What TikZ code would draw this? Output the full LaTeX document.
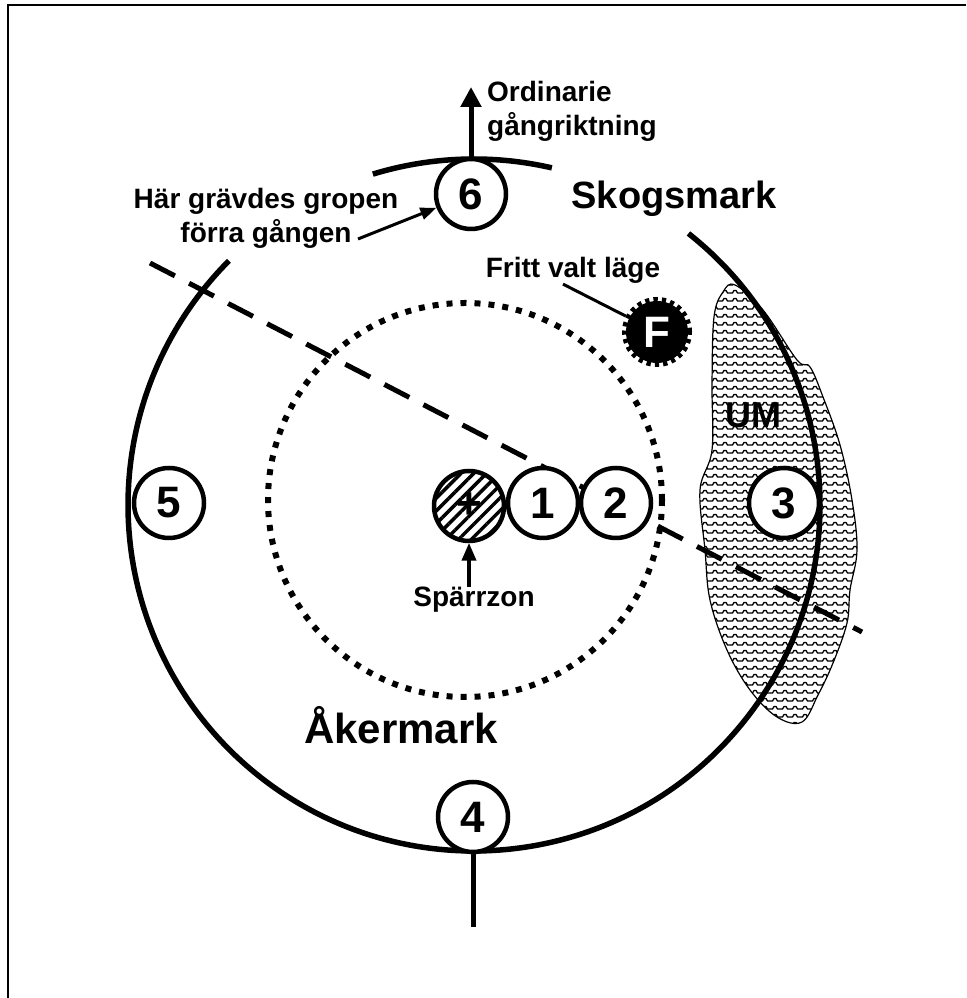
\documentclass[tikz,border=0pt]{standalone}
\usepackage{fontspec}
\setmainfont{Liberation Sans}
\usepackage{xcolor}
\usepackage{tikz}
\usetikzlibrary{arrows.meta,patterns.meta}
\pgfdeclarepatternformonly{UMwaves}{\pgfqpoint{-1pt}{-1pt}}{\pgfqpoint{11pt}{9pt}}{\pgfqpoint{10pt}{8pt}}{%
  \pgfsetlinewidth{1.3pt}%
  \pgfpathmoveto{\pgfqpoint{0pt}{1pt}}%
  \pgfpathlineto{\pgfqpoint{2.5pt}{1pt}}%
  \pgfpathlineto{\pgfqpoint{4pt}{3.5pt}}%
  \pgfpathlineto{\pgfqpoint{6pt}{3.5pt}}%
  \pgfpathlineto{\pgfqpoint{7.5pt}{1pt}}%
  \pgfpathlineto{\pgfqpoint{10pt}{1pt}}%
  \pgfusepath{stroke}}

\begin{document}
\begin{tikzpicture}[x=1pt,y=1pt,
  numcirc/.style={circle,draw,line width=4.5pt,fill=white,minimum size=70pt,inner sep=0pt,font=\fontsize{44}{44}\selectfont\bfseries},
  lbl/.style={font=\fontsize{28}{34}\selectfont\bfseries,inner sep=0pt},
  biglbl/.style={font=\fontsize{38}{42}\selectfont\bfseries,inner sep=0pt},
  pointer/.style={line width=3pt,-{Triangle[width=12pt,length=16pt]}}]
\path[use as bounding box] (0,0) rectangle (966,998);
\draw[line width=2.5pt] (8,0) -- (8,993) -- (966,993);
% UM area
\draw[line width=1.2pt,pattern=UMwaves] plot[smooth cycle,tension=0.6] coordinates {
  (735,713) (763,688) (797,638) (810,631) (823,601) (840,553) (852,498) (857,448)
  (850,408) (847,375) (833,335) (818,303) (802,276) (777,281) (750,308) (727,348)
  (710,398) (705,448) (700,508) (712,548) (712,615) (714,681) (723,706)};
% big circle, open where the labels sit
\draw[line width=5.5pt] (474,493) ++(51.7:346) arc[start angle=51.7,end angle=-224.9,radius=346];
\draw[line width=5.5pt] (474,493) ++(77:346) arc[start angle=77,end angle=107,radius=346];
\draw[line width=6pt,dash pattern=on 6pt off 8pt] (465,498) circle[radius=197];
\draw[line width=5pt,dash pattern=on 28pt off 16pt] (150,735) -- (862,366);
% positions
\node[numcirc] (n6) at (471,804) {6};
\node[numcirc] (n5) at (169,495) {5};
\node[numcirc] (n4) at (473,181) {4};
\node[numcirc] (n3) at (784,495) {3};
\node[numcirc,pattern={Lines[angle=45,distance=9pt,line width=3.5pt]}] (zone) at (469,492) {+};
\node[numcirc] (n1) at (543,495) {1};
\node[numcirc] (n2) at (616,495) {2};
\node[circle,fill=black,draw=black,line width=8pt,dash pattern=on 4pt off 4pt,minimum size=62pt,inner sep=0pt,
  text=white,font=\fontsize{44}{44}\selectfont\bfseries] (F) at (657,666) {F};
% labels
\node[lbl,align=left,anchor=west] (dir) at (487,887) {Ordinarie\\gångriktning};
\node[lbl,align=center] (prev) at (266,780) {Här grävdes gropen\\förra gången};
\node[biglbl] (forest) at (674,799) {Skogsmark};
\node[biglbl,font=\fontsize{42}{46}\selectfont\bfseries] (field) at (401,273) {Åkermark};
\node[biglbl,font=\fontsize{36}{40}\selectfont\bfseries] (um) at (753,583) {UM};
\node[lbl,anchor=base] (fritt) at (573,720) {Fritt valt läge};
\node[lbl,anchor=base] (sz) at (474,391) {Spärrzon};
% connectors
\coordinate (ahead) at (471,911);
\coordinate (prevend) at (358,759);
\coordinate (tail) at (473,71);
\draw[line width=5pt,-{Triangle[width=20pt,length=20pt]}] (n6.north) -- (ahead);
\draw[pointer] (prevend) -- (n6);
\draw[line width=3pt] ([xshift=-10pt]fritt.south) -- (F);
\draw[pointer,line width=4pt,-{Triangle[width=14pt,length=18pt]}] (zone.south |- sz.north) -- (zone.south);
\draw[line width=5pt] (n4.south) -- (tail);
\end{tikzpicture}
\end{document}
